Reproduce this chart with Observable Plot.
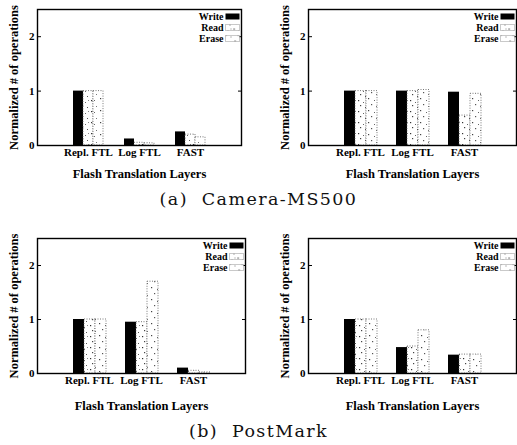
<!DOCTYPE html>
<html>
<head>
<meta charset="utf-8">
<script src="https://cdn.jsdelivr.net/npm/d3@7"></script>
<script src="https://cdn.jsdelivr.net/npm/@observablehq/plot@0.6"></script>
<style>
  body { margin: 0; background: #fff; }
  #root { position: relative; width: 517px; height: 445px; overflow: hidden; background: #fff; }
  .panel { position: absolute; }
  .cap { position: absolute; left: 0; width: 517px; text-align: center; font-family: "DejaVu Serif", "Liberation Serif", serif; font-size: 17.5px; letter-spacing: 1.4px; color: #111; }
</style>
</head>
<body>
<div id="root">
  <svg width="0" height="0" style="position:absolute">
    <defs>
      <pattern id="dotsRead" width="11" height="11" patternUnits="userSpaceOnUse">
        <rect width="11" height="11" fill="white"/>
        <rect x="1" y="1" width="1.2" height="1.2" fill="#333"/>
        <rect x="6" y="3" width="1" height="1" fill="#666"/>
        <rect x="3" y="6" width="1.2" height="1.2" fill="#444"/>
        <rect x="8" y="8" width="1" height="1" fill="#555"/>
        <rect x="9" y="1" width="1" height="1" fill="#888"/>
      </pattern>
      <pattern id="dotsErase" width="12" height="12" patternUnits="userSpaceOnUse">
        <rect width="12" height="12" fill="white"/>
        <rect x="2" y="2" width="1.2" height="1.2" fill="#444"/>
        <rect x="8" y="4" width="1" height="1" fill="#666"/>
        <rect x="5" y="8" width="1.2" height="1.2" fill="#555"/>
        <rect x="10" y="10" width="1" height="1" fill="#777"/>
      </pattern>
    </defs>
  </svg>
  <div id="p1" class="panel" style="left:0;top:0"></div>
  <div id="p2" class="panel" style="left:258px;top:0"></div>
  <div class="cap" style="top:189px">(a)&nbsp;&nbsp;Camera-MS500</div>
  <div id="p3" class="panel" style="left:0;top:225px"></div>
  <div id="p4" class="panel" style="left:258px;top:225px"></div>
  <div class="cap" style="top:421px">(b)&nbsp;&nbsp;PostMark</div>
</div>
<script>
const groups = ["Repl. FTL", "Log FTL", "FAST"];
const series = ["Write", "Read", "Erase"];
const yTicks = [0, 1, 2];
const yLabel = "Normalized # of operations";
const xLabel = "Flash Translation Layers";

// (a) Camera-MS500, left
const camL_write = [1.00, 0.12, 0.25];
const camL_read  = [1.00, 0.05, 0.20];
const camL_erase = [1.00, 0.04, 0.15];
// (a) Camera-MS500, right
const camR_write = [1.00, 1.00, 0.98];
const camR_read  = [1.00, 1.00, 0.55];
const camR_erase = [1.00, 1.02, 0.95];
// (b) PostMark, left
const pmL_write = [1.00, 0.95, 0.10];
const pmL_read  = [1.00, 0.95, 0.05];
const pmL_erase = [1.00, 1.70, 0.02];
// (b) PostMark, right
const pmR_write = [1.00, 0.48, 0.34];
const pmR_read  = [1.00, 0.50, 0.35];
const pmR_erase = [1.00, 0.80, 0.35];

const fills = {Write: "black", Read: "url(#dotsRead)", Erase: "url(#dotsErase)"};

const swatch = {
  draw(context) { context.rect(-7, -3, 14, 6); }
};

function panel(el, vals, opts) {
  const rows = groups.flatMap((g, i) => series.map((s, j) => ({group: g, series: s, value: vals[j][i]})));
  const legend = series.flatMap((s, k) => [
    Plot.text([s], {facet: "super", frameAnchor: "top-right", text: d => d, textAnchor: "end",
      lineAnchor: "middle", dx: -18, dy: 7 + k * 11, fontSize: 10, fontWeight: "bold"}),
    Plot.dot([s], {facet: "super", frameAnchor: "top-right", symbol: swatch, r: 1, dx: -9, dy: 7 + k * 11,
      fill: fills[s], stroke: s === "Write" ? "black" : "#666", strokeWidth: s === "Write" ? 0 : 0.7,
      strokeDasharray: s === "Write" ? null : "1,1"})
  ]);
  const fig = Plot.plot({
    width: opts.width, height: opts.height,
    marginLeft: opts.ml, marginRight: opts.mr, marginTop: opts.mt, marginBottom: opts.mb,
    style: {fontFamily: "Liberation Serif, serif", fontWeight: "bold", fontSize: "11px", color: "black", background: "white", overflow: "visible"},
    // overlapping facet bands: groups sit at 1/4, 1/2, 3/4 of the frame (gnuplot xrange [-1:3])
    fx: {domain: groups, paddingInner: -1, paddingOuter: 0},
    x: {domain: series, paddingInner: 0, paddingOuter: 3.2, axis: null},
    y: {domain: [0, 2.5]},
    marks: [
      Plot.barY(rows, {filter: d => d.series === "Write", fx: "group", x: "series", y: "value", fill: "black"}),
      Plot.barY(rows, {filter: d => d.series !== "Write", fx: "group", x: "series", y: "value",
        fill: d => fills[d.series], stroke: "#555", strokeWidth: 0.8, strokeDasharray: "1,1.5"}),
      Plot.frame({facet: "super", stroke: "black", strokeWidth: 1.4}),
      Plot.axisY({ticks: yTicks, tickFormat: "d", tickSize: -4, tickPadding: 7, fontSize: 11, label: null}),
      Plot.axisY({anchor: "right", ticks: yTicks, tickSize: -4, tickFormat: () => "", label: null}),
      Plot.axisFx({anchor: "bottom", tickSize: 0, tickPadding: 3, fontSize: 11, label: null}),
      Plot.text([yLabel], {facet: "super", frameAnchor: "left", text: d => d, rotate: -90,
        textAnchor: "middle", lineAnchor: "top", dx: -28, fontSize: 12.5, fontWeight: "bold"}),
      Plot.text([xLabel], {facet: "super", frameAnchor: "bottom", text: d => d,
        textAnchor: "middle", lineAnchor: "bottom", dy: opts.lo, fontSize: 12.5, fontWeight: "bold"}),
      ...legend
    ]
  });
  document.getElementById(el).appendChild(fig);
}

panel("p1", [camL_write, camL_read, camL_erase], {width: 258, height: 185, ml: 35, mr: 16, mt: 9, mb: 40, lo: 32});
panel("p2", [camR_write, camR_read, camR_erase], {width: 259, height: 185, ml: 50, mr: 1, mt: 9, mb: 40, lo: 32});
panel("p3", [pmL_write, pmL_read, pmL_erase], {width: 258, height: 190, ml: 36, mr: 13, mt: 13, mb: 42, lo: 36});
panel("p4", [pmR_write, pmR_read, pmR_erase], {width: 259, height: 190, ml: 49, mr: 1, mt: 13, mb: 42, lo: 36});
</script>
</body>
</html>
